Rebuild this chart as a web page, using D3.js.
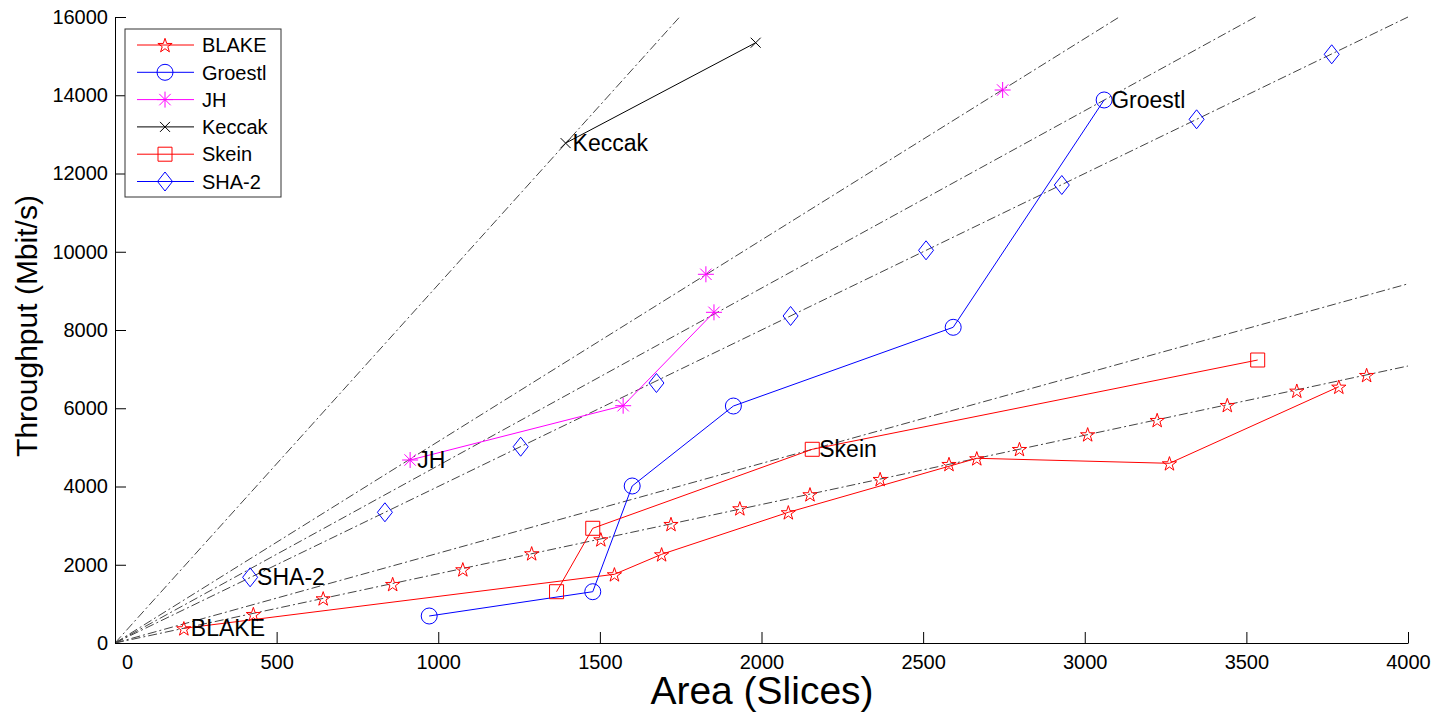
<!DOCTYPE html>
<html>
<head>
<meta charset="utf-8">
<script src="https://cdn.jsdelivr.net/npm/d3@7/dist/d3.min.js"></script>
<style>
  body { margin: 0; background: #fff; }
  text { font-family: "Liberation Sans", Arial, sans-serif; }
</style>
</head>
<body>
<div id="root"></div>
<script>
// area (slices) / throughput (Mbit/s)
var blakeArea = [213, 1545, 1691, 2083, 2666, 3262, 3786];
var blakeThr = [376, 1756, 2267, 3341, 4721, 4593, 6551];
var blakeArea2 = [428, 644, 859, 1076, 1289, 1503, 1720, 1933, 2150, 2367, 2580, 2798, 3009, 3224, 3441, 3656, 3872];
var blakeThr2 = [741, 1142, 1508, 1884, 2293, 2650, 3042, 3443, 3801, 4192, 4575, 4958, 5334, 5700, 6083, 6449, 6850];
var groestlArea = [972, 1478, 1600, 1913, 2593, 3060];
var groestlThr = [690, 1311, 4013, 6057, 8069, 13879];
var jhArea = [913, 1572, 1853];
var jhThr = [4677, 6065, 8452];
var jhArea2 = [1828, 2746];
var jhThr2 = [9424, 14134];
var keccakArea = [1394, 1982];
var keccakThr = [12777, 15343];
var skeinArea = [1366, 1478, 2157, 3535];
var skeinThr = [1311, 2932, 4951, 7233];
var shaArea = [418, 835, 1255, 1675, 2090, 2509, 2929, 3346, 3764];
var shaThr = [1679, 3341, 5017, 6645, 8358, 10037, 11706, 13385, 15047];

// slopes (throughput per slice) of the dash-dot guide lines through the origin
var ratios = [9.16, 5.15, 4.535, 4.0, 2.295, 1.77];

var xTicks = [0, 500, 1000, 1500, 2000, 2500, 3000, 3500, 4000];
var yTicks = [0, 2000, 4000, 6000, 8000, 10000, 12000, 14000, 16000];

var legendNames = ["BLAKE", "Groestl", "JH", "Keccak", "Skein", "SHA-2"];
var legendColors = ["#ff0000", "#0000ff", "#ff00ff", "#000000", "#ff0000", "#0000ff"];
var legendMarkers = ["star", "circle", "asterisk", "x", "square", "diamond"];

var labelNames = ["BLAKE", "SHA-2", "JH", "Keccak", "Skein", "Groestl"];
var labelArea = [213, 418, 913, 1394, 2157, 3060];
var labelThr = [376, 1679, 4677, 12777, 4951, 13879];

var w = 1449;
var h = 715;

var x = d3.scaleLinear().domain([0, 4000]).range([115, 1408]);
var y = d3.scaleLinear().domain([0, 16000]).range([643, 17]);

var svg = d3.select("#root").append("svg").attr("width", w).attr("height", h);

function markerPath(type) {
  switch (type) {
    case "star":
      var pts = [];
      for (var i = 0; i < 10; i++) {
        var a = (-90 + 36 * i) * Math.PI / 180;
        var r = i % 2 == 0 ? 7.5 : 2.9;
        pts.push([r * Math.cos(a), r * Math.sin(a) + 0.8]);
      }
      return "M" + pts.map(function(p) { return p[0].toFixed(2) + "," + p[1].toFixed(2); }).join("L") + "Z";
    case "circle":
      return "M8,0A8,8 0 1,1 -8,0A8,8 0 1,1 8,0Z";
    case "asterisk":
      return "M-8,0H8M0,-8V8M-5.7,-5.7L5.7,5.7M-5.7,5.7L5.7,-5.7";
    case "x":
      return "M-5,-5L5,5M-5,5L5,-5";
    case "square":
      return "M-7,-7H7V7H-7Z";
    case "diamond":
      return "M0,-9.5L7.5,0L0,9.5L-7.5,0Z";
  }
}

function drawMarkers(area, thr, type, color) {
  svg.append("g").selectAll("path").data(d3.zip(area, thr)).enter().append("path")
    .attr("transform", function(d) { return "translate(" + x(d[0]) + "," + y(d[1]) + ")"; })
    .attr("d", markerPath(type))
    .style("fill", "none").style("stroke", color).style("stroke-width", 1);
}

var line = d3.line().x(function(d) { return x(d[0]); }).y(function(d) { return y(d[1]); });

function drawLine(area, thr, color) {
  svg.append("path").datum(d3.zip(area, thr)).attr("d", line)
    .style("fill", "none").style("stroke", color).style("stroke-width", 1);
}

// guide lines, clipped to the axes box
svg.append("g").selectAll("line").data(ratios).enter().append("line")
  .attr("x1", x(0)).attr("y1", y(0))
  .attr("x2", function(r) { return x(Math.min(4000, 16000 / r)); })
  .attr("y2", function(r) { return y(Math.min(4000, 16000 / r) * r); })
  .style("stroke", "#444").style("stroke-width", 1).style("stroke-dasharray", "9,3,2,3");

// axes
var xAxis = svg.append("g").attr("transform", "translate(0," + y(0) + ")")
  .call(d3.axisBottom(x).tickValues(xTicks).tickFormat(d3.format("d")).tickSizeInner(-11).tickSizeOuter(0).tickPadding(12));
var yAxis = svg.append("g").attr("transform", "translate(" + x(0) + ",0)")
  .call(d3.axisLeft(y).tickValues(yTicks).tickFormat(d3.format("d")).tickSizeInner(-11).tickSizeOuter(0).tickPadding(7));
[xAxis, yAxis].forEach(function(a) {
  a.attr("font-size", 20).attr("font-family", "Liberation Sans, Arial, sans-serif");
  a.selectAll("text").style("fill", "#000");
  a.selectAll("line, path").style("stroke", "#000");
});
// matlab nudges the first x label off the corner
xAxis.selectAll(".tick text").filter(function(d) { return d == 0; }).attr("x", 12);

svg.append("text").attr("x", 762).attr("y", 704).attr("text-anchor", "middle")
  .attr("font-size", 39).text("Area (Slices)");
svg.append("text").attr("transform", "translate(37,326) rotate(-90)").attr("text-anchor", "middle")
  .attr("font-size", 30).text("Throughput (Mbit/s)");

// series
drawLine(blakeArea, blakeThr, "#ff0000");
drawMarkers(blakeArea, blakeThr, "star", "#ff0000");
drawMarkers(blakeArea2, blakeThr2, "star", "#ff0000");
drawLine(groestlArea, groestlThr, "#0000ff");
drawMarkers(groestlArea, groestlThr, "circle", "#0000ff");
drawLine(jhArea, jhThr, "#ff00ff");
drawMarkers(jhArea, jhThr, "asterisk", "#ff00ff");
drawMarkers(jhArea2, jhThr2, "asterisk", "#ff00ff");
drawLine(keccakArea, keccakThr, "#000000");
drawMarkers(keccakArea, keccakThr, "x", "#000000");
drawLine(skeinArea, skeinThr, "#ff0000");
drawMarkers(skeinArea, skeinThr, "square", "#ff0000");
drawMarkers(shaArea, shaThr, "diamond", "#0000ff");

// point labels
svg.append("g").selectAll("text").data(labelNames).enter().append("text")
  .attr("x", function(d, i) { return x(labelArea[i]) + 7; })
  .attr("y", function(d, i) { return y(labelThr[i]); })
  .attr("dy", "0.35em").attr("font-size", 23).style("fill", "#000")
  .text(function(d) { return d; });

// legend
var legend = svg.append("g").attr("class", "legend");
legend.append("rect").attr("x", 125).attr("y", 29).attr("width", 156).attr("height", 168)
  .style("fill", "#fff").style("stroke", "#333").style("stroke-width", 1);
var rows = legend.selectAll("g.row").data(legendNames).enter().append("g").attr("class", "row")
  .attr("transform", function(d, i) { return "translate(0," + (45 + i * 27.3) + ")"; });
rows.append("line").attr("x1", 137).attr("x2", 194).attr("y1", 0).attr("y2", 0)
  .style("stroke", function(d, i) { return legendColors[i]; }).style("stroke-width", 1);
rows.append("path").attr("transform", "translate(165,0)")
  .attr("d", function(d, i) { return markerPath(legendMarkers[i]); })
  .style("fill", "none").style("stroke", function(d, i) { return legendColors[i]; });
rows.append("text").attr("x", 202).attr("dy", "0.36em").attr("font-size", 20)
  .style("fill", "#000").text(function(d) { return d; });
</script>
</body>
</html>
